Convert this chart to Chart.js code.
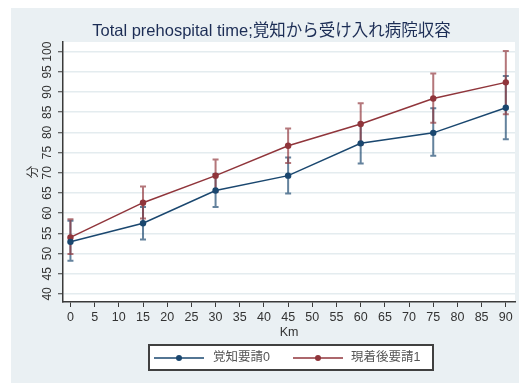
<!DOCTYPE html>
<html>
<head>
<meta charset="utf-8">
<script src="https://cdn.jsdelivr.net/npm/chart.js@4.4.1/dist/chart.umd.min.js"></script>
<style>
  html, body { margin: 0; padding: 0; background: #fff; }
  #wrap { position: relative; width: 519px; height: 383px; }
</style>
</head>
<body>
<div id="wrap"><canvas id="chart" width="519" height="383"></canvas></div>
<script>
// distance (km) and mean prehospital time (min) with CI bounds
const distances = [0, 15, 30, 45, 60, 75, 90];
const xTicks = [0, 5, 10, 15, 20, 25, 30, 35, 40, 45, 50, 55, 60, 65, 70, 75, 80, 85, 90];
const yTicks = [40, 45, 50, 55, 60, 65, 70, 75, 80, 85, 90, 95, 100];
const seriesNames = ['覚知要請0', '現着後要請1'];

const mean0 = [52.9, 57.5, 65.6, 69.3, 77.3, 79.9, 86.1];
const low0  = [48.2, 53.5, 61.5, 64.9, 72.3, 74.2, 78.3];
const high0 = [58.1, 61.5, 69.7, 73.8, 82.3, 86.0, 94.0];

const mean1 = [54.0, 62.6, 69.3, 76.7, 82.1, 88.4, 92.4];
const low1  = [49.9, 58.7, 65.3, 72.4, 77.0, 82.4, 84.5];
const high1 = [58.5, 66.6, 73.3, 81.0, 87.2, 94.6, 100.2];

const NAVY = '#1a476f';
const MAROON = '#90353b';
const NAVY_BAR = 'rgba(26,71,111,0.68)';
const MAROON_BAR = 'rgba(144,53,59,0.68)';
const PANEL = '#eaf0f3';
const GRID = '#e4ecef';
const AXIS = '#3a3a3a';
const LATIN = '"Liberation Sans", Arial, "Noto Sans CJK JP", sans-serif';

function pts(ys) {
  return distances.map((d, i) => ({ x: d, y: ys[i] }));
}

// light panel behind everything, white plot region
const backdrop = {
  id: 'backdrop',
  beforeDraw(chart) {
    const { ctx, chartArea: a } = chart;
    ctx.save();
    ctx.fillStyle = '#fff';
    ctx.fillRect(0, 0, chart.width, chart.height);
    ctx.fillStyle = PANEL;
    ctx.fillRect(11, 8, chart.width - 11, chart.height - 8);
    ctx.fillStyle = '#fff';
    ctx.fillRect(a.left, a.top, a.right - a.left, a.bottom - a.top);
    ctx.restore();
  }
};

// capped confidence intervals
const errorBars = {
  id: 'errorBars',
  beforeDatasetsDraw(chart) {
    const { ctx, scales: { x, y } } = chart;
    ctx.save();
    chart.data.datasets.forEach(ds => {
      ctx.strokeStyle = ds.barColor;
      ctx.lineWidth = 2;
      ds.data.forEach((p, i) => {
        const px = x.getPixelForValue(p.x);
        const top = y.getPixelForValue(ds.high[i]);
        const bot = y.getPixelForValue(ds.low[i]);
        ctx.beginPath();
        ctx.moveTo(px, top); ctx.lineTo(px, bot);
        ctx.moveTo(px - 3, top); ctx.lineTo(px + 3, top);
        ctx.moveTo(px - 3, bot); ctx.lineTo(px + 3, bot);
        ctx.stroke();
      });
    });
    ctx.restore();
  }
};

// boxed legend below the axis: line + marker, then label
const boxLegend = {
  id: 'boxLegend',
  afterDraw(chart) {
    const { ctx } = chart;
    const box = { x: 149, y: 345, w: 284, h: 25 };
    const items = [
      { x0: 154, x1: 204, text: 213 },
      { x0: 293, x1: 343, text: 351 }
    ];
    ctx.save();
    ctx.fillStyle = '#fff';
    ctx.fillRect(box.x, box.y, box.w, box.h);
    ctx.strokeStyle = '#404040';
    ctx.lineWidth = 2;
    ctx.strokeRect(box.x, box.y, box.w, box.h);
    const cy = box.y + box.h / 2 + 0.5;
    chart.data.datasets.forEach((ds, i) => {
      const it = items[i];
      ctx.strokeStyle = ds.borderColor;
      ctx.lineWidth = 1.5;
      ctx.beginPath();
      ctx.moveTo(it.x0, cy); ctx.lineTo(it.x1, cy);
      ctx.stroke();
      ctx.fillStyle = ds.borderColor;
      ctx.beginPath();
      ctx.arc((it.x0 + it.x1) / 2, cy, 3, 0, Math.PI * 2);
      ctx.fill();
      ctx.fillStyle = '#555';
      ctx.font = '12.5px ' + LATIN;
      ctx.textBaseline = 'middle';
      ctx.textAlign = 'left';
      ctx.fillText(ds.label, it.text, cy);
    });
    ctx.restore();
  }
};

new Chart(document.getElementById('chart'), {
  type: 'line',
  data: {
    datasets: [
      {
        label: seriesNames[0], data: pts(mean0), low: low0, high: high0,
        borderColor: NAVY, backgroundColor: NAVY, barColor: NAVY_BAR,
        borderWidth: 1.5, pointRadius: 3.2, pointBorderWidth: 0, tension: 0
      },
      {
        label: seriesNames[1], data: pts(mean1), low: low1, high: high1,
        borderColor: MAROON, backgroundColor: MAROON, barColor: MAROON_BAR,
        borderWidth: 1.5, pointRadius: 3.2, pointBorderWidth: 0, tension: 0
      }
    ]
  },
  options: {
    responsive: false,
    animation: false,
    devicePixelRatio: 1,
    layout: { padding: { top: 8, left: 24, right: 0, bottom: 43 } },
    plugins: {
      legend: { display: false },
      tooltip: { enabled: false },
      title: {
        display: true,
        text: 'Total prehospital time;覚知から受け入れ病院収容',
        color: '#1c2d55',
        font: { family: LATIN, size: 16.5, weight: 'normal' },
        padding: { top: 13.1, bottom: 1.1 }
      }
    },
    scales: {
      x: {
        type: 'linear',
        min: -1.54,
        max: 91.9,
        afterBuildTicks: s => { s.ticks = xTicks.map(v => ({ value: v })); },
        afterFit: s => { s.height = 38; s.paddingLeft = 0; s.paddingRight = 0; },
        border: { color: AXIS, width: 1.5 },
        grid: { drawOnChartArea: false, drawTicks: true, tickLength: 5, tickColor: AXIS, tickWidth: 1 },
        ticks: {
          autoSkip: false, maxRotation: 0, padding: 3, color: '#333',
          font: { family: LATIN, size: 12.5 }
        },
        title: {
          display: true, text: 'Km', color: '#333',
          font: { family: LATIN, size: 12.5 },
          padding: { top: 0, bottom: 0 }
        }
      },
      y: {
        type: 'linear',
        min: 38.0,
        max: 102.4,
        afterBuildTicks: s => { s.ticks = yTicks.map(v => ({ value: v })); },
        afterFit: s => { s.width = 39; s.paddingTop = 0; s.paddingBottom = 0; },
        border: { color: AXIS, width: 1.5 },
        grid: { color: GRID, lineWidth: 1.5, tickLength: 5, tickColor: AXIS, tickWidth: 1 },
        ticks: {
          autoSkip: false, minRotation: 90, maxRotation: 90, crossAlign: 'center', padding: 0,
          color: '#333', font: { family: LATIN, size: 12 }
        },
        title: {
          display: true, text: '分', color: '#333',
          font: { family: LATIN, size: 12.5 },
          padding: { top: 1.8, bottom: 0 }
        }
      }
    }
  },
  plugins: [backdrop, errorBars, boxLegend]
});
</script>
</body>
</html>
